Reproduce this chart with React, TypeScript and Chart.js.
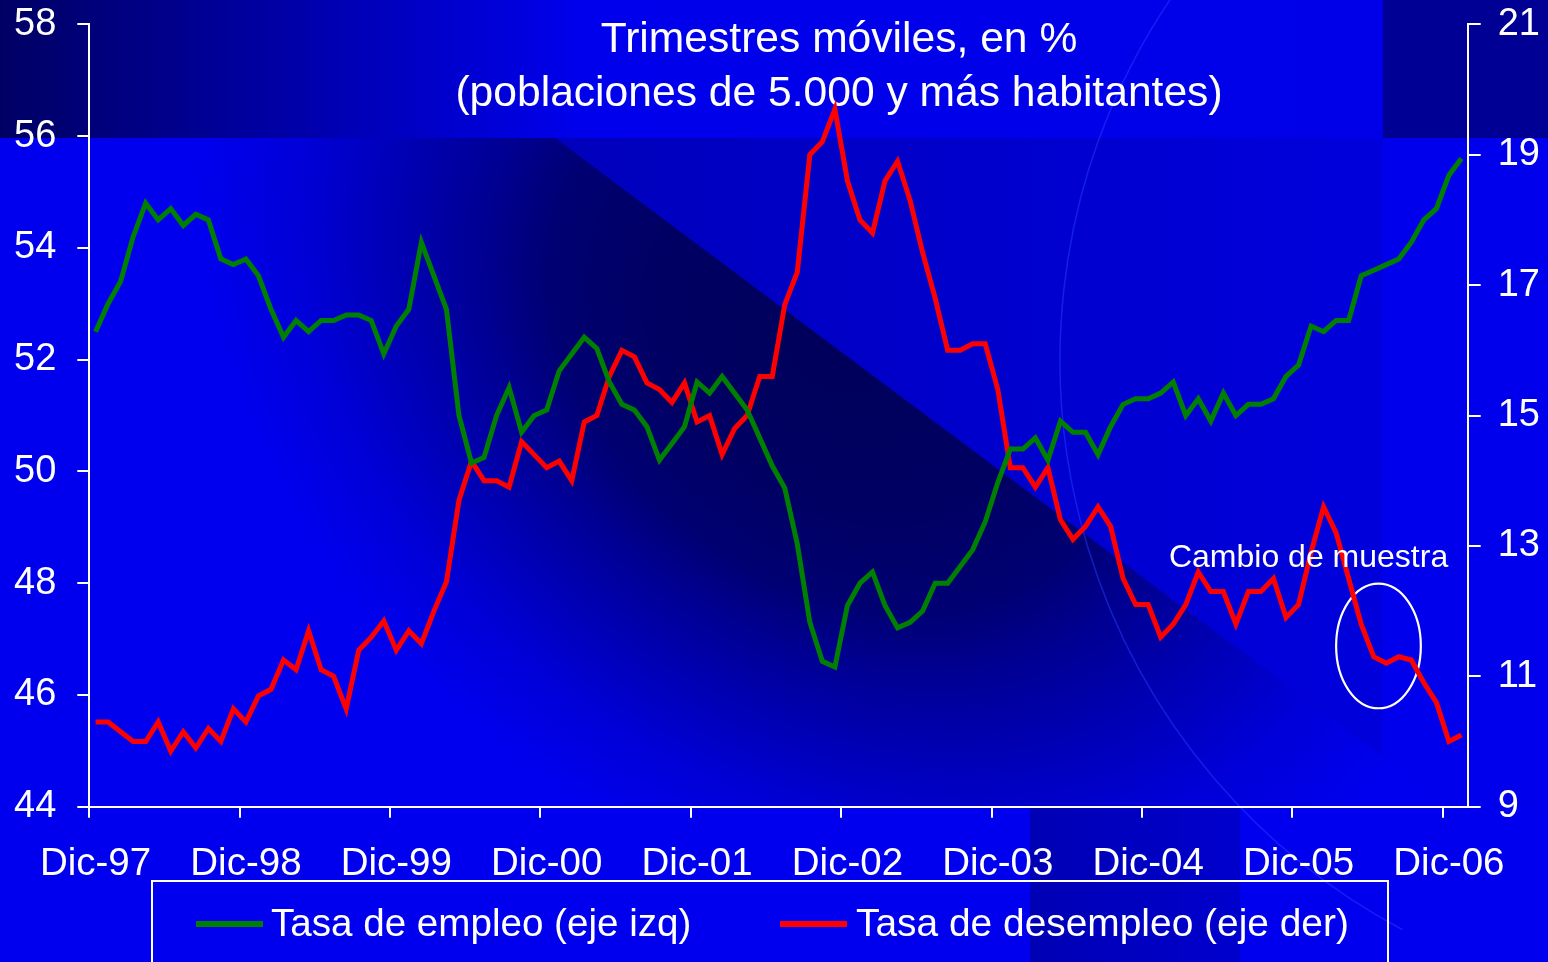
import React, { useEffect, useRef } from 'react';
import { Chart, registerables } from 'chart.js';

Chart.register(...registerables);

// ---------------- DATA ----------------
const MONTH_NAMES = ['Ene', 'Feb', 'Mar', 'Abr', 'May', 'Jun', 'Jul', 'Ago', 'Sep', 'Oct', 'Nov', 'Dic'];
const FIRST_YEAR = 97; // Dic-97
const N_MONTHS = 110; // Dic-97 ... Ene-07
const CATEGORIES: string[] = [];
for (let i = 0; i < N_MONTHS; i++) {
  const m = (11 + i) % 12;
  const y = (FIRST_YEAR + Math.floor((11 + i) / 12)) % 100;
  CATEGORIES.push(MONTH_NAMES[m] + '-' + String(y).padStart(2, '0'));
}
const LABEL_EVERY = 12;

const EMPLEO_LABEL = 'Tasa de empleo (eje izq)';
const DESEMPLEO_LABEL = 'Tasa de desempleo (eje der)';

const EMPLEO = [
  52.5, 53.0, 53.4, 54.2, 54.8, 54.5, 54.7, 54.4, 54.6, 54.5,
  53.8, 53.7, 53.8, 53.5, 52.9, 52.4, 52.7, 52.5, 52.7, 52.7,
  52.8, 52.8, 52.7, 52.1, 52.6, 52.9, 54.1, 53.5, 52.9, 51.0,
  50.15, 50.25, 51.0, 51.5, 50.7, 51.0, 51.1, 51.8, 52.1, 52.4,
  52.2, 51.6, 51.2, 51.1, 50.8, 50.2, 50.5, 50.8, 51.6, 51.4,
  51.7, 51.4, 51.1, 50.6, 50.1, 49.7, 48.7, 47.3, 46.6, 46.5,
  47.6, 48.0, 48.2, 47.6, 47.2, 47.3, 47.5, 48.0, 48.0, 48.3,
  48.6, 49.1, 49.8, 50.4, 50.4, 50.6, 50.2, 50.9, 50.7, 50.7,
  50.3, 50.8, 51.2, 51.3, 51.3, 51.4, 51.6, 51.0, 51.3, 50.9,
  51.4, 51.0, 51.2, 51.2, 51.3, 51.7, 51.9, 52.6, 52.5, 52.7,
  52.7, 53.5, 53.6, 53.7, 53.8, 54.1, 54.5, 54.7, 55.3, 55.6,
];

const DESEMPLEO = [
  10.3, 10.3, 10.15, 10.0, 10.0, 10.3, 9.85, 10.15, 9.9, 10.2,
  10.0, 10.5, 10.3, 10.7, 10.8, 11.25, 11.1, 11.7, 11.1, 11.0,
  10.5, 11.4, 11.6, 11.85, 11.4, 11.7, 11.5, 12.0, 12.45, 13.7,
  14.3, 14.0, 14.0, 13.9, 14.6, 14.4, 14.2, 14.3, 14.0, 14.9,
  15.0, 15.6, 16.0, 15.9, 15.5, 15.4, 15.2, 15.5, 14.9, 15.0,
  14.4, 14.8, 15.0, 15.6, 15.6, 16.7, 17.2, 19.0, 19.2, 19.7,
  18.6, 18.0, 17.8, 18.6, 18.9, 18.3, 17.5, 16.8, 16.0, 16.0,
  16.1, 16.1, 15.4, 14.2, 14.2, 13.9, 14.2, 13.4, 13.1, 13.3,
  13.6, 13.3, 12.5, 12.1, 12.1, 11.6, 11.8, 12.1, 12.6, 12.3,
  12.3, 11.8, 12.3, 12.3, 12.5, 11.9, 12.1, 12.9, 13.6, 13.2,
  12.5, 11.8, 11.3, 11.2, 11.3, 11.25, 10.9, 10.6, 10.0, 10.1,
];

const LEFT_MIN = 44;
const LEFT_MAX = 58;
const RIGHT_MIN = 9;
const RIGHT_MAX = 21;
const TICK_STEP = 2;

const TITLE_LINES = ['Trimestres móviles, en %', '(poblaciones de 5.000 y más habitantes)'];

// annotation, in data units (category index / right-axis value)
const NOTE_TEXT = 'Cambio de muestra';
const NOTE_TEXT_AT = { x: 96.8, y: 12.68 };
const NOTE_ELLIPSE = { x0: 99.0, x1: 105.76, y0: 10.51, y1: 12.42 };

// ---------------- STYLE ----------------
const W = 1548;
const H = 962;
const FONT = '"Liberation Sans", Arial, Helvetica, sans-serif';
const GREEN = '#008000';
const RED = '#ff0000';
const WHITE = '#ffffff';

const backgroundPlugin = {
  id: 'slideBackground',
  beforeDraw(chart: any) {
    const ctx = chart.ctx as CanvasRenderingContext2D;
    ctx.save();
    // base
    ctx.fillStyle = 'rgb(0,0,238)';
    ctx.fillRect(0, 0, W, H);
    // top band
    const gTop = ctx.createLinearGradient(0, 0, 1383, 0);
    gTop.addColorStop(0, 'rgb(0,0,100)');
    gTop.addColorStop(0.42, 'rgb(0,0,236)');
    gTop.addColorStop(1, 'rgb(0,0,232)');
    ctx.fillStyle = gTop;
    ctx.fillRect(0, 0, 1383, 138);
    ctx.fillStyle = 'rgb(0,0,148)';
    ctx.fillRect(1383, 0, W - 1383, 138);
    // middle band
    const gMid = ctx.createLinearGradient(555, 0, 1383, 0);
    gMid.addColorStop(0, 'rgb(0,0,188)');
    gMid.addColorStop(1, 'rgb(0,0,220)');
    ctx.fillStyle = gMid;
    ctx.fillRect(0, 138, 1383, 669);
    ctx.fillStyle = 'rgb(0,0,237)';
    ctx.fillRect(1383, 138, W - 1383, 669);
    // dark wedge under the diagonal
    ctx.save();
    ctx.beginPath();
    ctx.moveTo(0, 138);
    ctx.lineTo(555, 138);
    ctx.lineTo(1450, 807);
    ctx.lineTo(0, 807);
    ctx.closePath();
    ctx.clip();
    const ang = Math.atan2(669, 895);
    const cx = 555 + 350 * Math.cos(ang);
    const cy = 138 + 350 * Math.sin(ang);
    ctx.translate(cx, cy);
    ctx.rotate(ang);
    ctx.scale(600 / 450, 1);
    const R = 520;
    const gR = ctx.createRadialGradient(0, 0, 0, 0, 0, R);
    gR.addColorStop(0, 'rgb(0,0,90)');
    gR.addColorStop(0.3, 'rgb(0,0,100)');
    gR.addColorStop(0.45, 'rgb(0,0,115)');
    gR.addColorStop(0.55, 'rgb(0,0,145)');
    gR.addColorStop(0.67, 'rgb(0,0,175)');
    gR.addColorStop(0.84, 'rgb(0,0,215)');
    gR.addColorStop(1, 'rgb(0,0,238)');
    ctx.fillStyle = gR;
    ctx.fillRect(-3000, -3000, 6000, 6000);
    ctx.restore();
    // darker block under axis
    const gB = ctx.createLinearGradient(1030, 0, 1240, 0);
    gB.addColorStop(0, 'rgb(0,0,180)');
    gB.addColorStop(1, 'rgb(0,0,205)');
    ctx.fillStyle = gB;
    ctx.fillRect(1030, 807, 210, H - 807);
    // faint arc
    ctx.beginPath();
    ctx.arc(1705, 360, 645, (118 * Math.PI) / 180, (214 * Math.PI) / 180);
    ctx.strokeStyle = 'rgba(40,60,255,0.5)';
    ctx.lineWidth = 1.5;
    ctx.stroke();
    ctx.restore();
  },
  beforeDatasetsDraw(chart: any) {
    const ctx = chart.ctx as CanvasRenderingContext2D;
    const xs = chart.scales.x;
    const ys = chart.scales.y2;
    ctx.save();
    // title (lines pass over it)
    ctx.fillStyle = WHITE;
    ctx.font = `42.6px ${FONT}`;
    ctx.textAlign = 'center';
    ctx.textBaseline = 'alphabetic';
    ctx.fillText(TITLE_LINES[0], 839, 51.7);
    ctx.fillText(TITLE_LINES[1], 839, 106);
    // ellipse annotation
    const ex0 = xs.getPixelForValue(NOTE_ELLIPSE.x0);
    const ex1 = xs.getPixelForValue(NOTE_ELLIPSE.x1);
    const ey0 = ys.getPixelForValue(NOTE_ELLIPSE.y0);
    const ey1 = ys.getPixelForValue(NOTE_ELLIPSE.y1);
    ctx.beginPath();
    ctx.ellipse((ex0 + ex1) / 2, (ey0 + ey1) / 2, Math.abs(ex1 - ex0) / 2, Math.abs(ey0 - ey1) / 2, 0, 0, Math.PI * 2);
    ctx.strokeStyle = WHITE;
    ctx.lineWidth = 2.2;
    ctx.stroke();
    ctx.restore();
  },
  afterDatasetsDraw(chart: any) {
    const ctx = chart.ctx as CanvasRenderingContext2D;
    const xs = chart.scales.x;
    const ys = chart.scales.y2;
    ctx.save();
    ctx.fillStyle = WHITE;
    ctx.font = `32px ${FONT}`;
    ctx.textAlign = 'center';
    ctx.textBaseline = 'alphabetic';
    ctx.fillText(NOTE_TEXT, xs.getPixelForValue(NOTE_TEXT_AT.x), ys.getPixelForValue(NOTE_TEXT_AT.y));
    ctx.restore();
  },
  afterDraw(chart: any) {
    const ctx = chart.ctx as CanvasRenderingContext2D;
    ctx.save();
    ctx.strokeStyle = WHITE;
    ctx.lineWidth = 2;
    ctx.strokeRect(152, 881, 1236, 200);
    const items = [
      { x: 196, tx: 271, size: 38.6, ds: chart.data.datasets[0] },
      { x: 780, tx: 856, size: 38.9, ds: chart.data.datasets[1] },
    ];
    ctx.textAlign = 'left';
    ctx.textBaseline = 'alphabetic';
    for (const it of items) {
      ctx.beginPath();
      ctx.moveTo(it.x, 924);
      ctx.lineTo(it.x + 67, 924);
      ctx.strokeStyle = it.ds.borderColor;
      ctx.lineWidth = 6;
      ctx.lineCap = 'butt';
      ctx.stroke();
      ctx.fillStyle = WHITE;
      ctx.font = `${it.size}px ${FONT}`;
      ctx.fillText(it.ds.label, it.tx, 936);
    }
    ctx.restore();
  },
};

const noPadY = (s: any, width: number) => {
  s.width = width;
  s.paddingTop = 0;
  s.paddingBottom = 0;
};

export default function App() {
  const ref = useRef<HTMLCanvasElement | null>(null);

  useEffect(() => {
    document.body.style.margin = '0';
    const canvas = ref.current;
    if (!canvas) return;
    const yFont = { family: FONT, size: 38 };
    const xFont = { family: FONT, size: 38.5 };
    const chart = new Chart(canvas, {
      type: 'line',
      data: {
        labels: CATEGORIES,
        datasets: [
          {
            label: EMPLEO_LABEL,
            data: EMPLEO,
            yAxisID: 'y',
            borderColor: GREEN,
            backgroundColor: GREEN,
            borderWidth: 5,
            pointRadius: 0,
            tension: 0,
            borderJoinStyle: 'miter',
            fill: false,
          },
          {
            label: DESEMPLEO_LABEL,
            data: DESEMPLEO,
            yAxisID: 'y2',
            borderColor: RED,
            backgroundColor: RED,
            borderWidth: 5,
            pointRadius: 0,
            tension: 0,
            borderJoinStyle: 'miter',
            fill: false,
          },
        ],
      },
      options: {
        responsive: false,
        animation: false,
        devicePixelRatio: 1,
        layout: { padding: { top: 24.3, left: 0, right: 0, bottom: 0 } },
        plugins: {
          legend: { display: false },
          tooltip: { enabled: false },
          title: { display: false },
        },
        scales: {
          x: {
            type: 'category',
            offset: true,
            grid: {
              display: true,
              offset: true,
              drawOnChartArea: false,
              drawTicks: true,
              tickLength: 11,
              lineWidth: 2,
              color: (c: any) => (c.index % LABEL_EVERY === 0 ? WHITE : 'rgba(0,0,0,0)'),
            },
            border: { display: true, color: WHITE, width: 2 },
            ticks: {
              autoSkip: false,
              maxRotation: 0,
              minRotation: 0,
              color: WHITE,
              font: xFont,
              padding: 24,
              callback: (_v: any, i: number) => (i % LABEL_EVERY === 0 ? CATEGORIES[i] : ''),
            },
            afterFit: (s: any) => {
              s.height = 155.3;
              s.paddingLeft = 0;
              s.paddingRight = 0;
            },
          },
          y: {
            position: 'left',
            min: LEFT_MIN,
            max: LEFT_MAX,
            grid: { drawOnChartArea: false, tickLength: 12, color: WHITE, lineWidth: 2 },
            border: { display: true, color: WHITE, width: 2 },
            ticks: { stepSize: TICK_STEP, color: WHITE, font: yFont, padding: 21 },
            afterFit: (s: any) => noPadY(s, 89.3),
          },
          y2: {
            position: 'right',
            min: RIGHT_MIN,
            max: RIGHT_MAX,
            grid: { drawOnChartArea: false, tickLength: 13, color: WHITE, lineWidth: 2 },
            border: { display: true, color: WHITE, width: 2 },
            ticks: { stepSize: TICK_STEP, color: WHITE, font: yFont, padding: 17 },
            afterFit: (s: any) => noPadY(s, 80.3),
          },
        },
      },
      plugins: [backgroundPlugin],
    } as any);
    return () => chart.destroy();
  }, []);

  return (
    <div style={{ position: 'fixed', left: 0, top: 0, width: W, height: H, overflow: 'hidden' }}>
      <canvas ref={ref} width={W} height={H} style={{ display: 'block', width: W, height: H }} />
    </div>
  );
}
